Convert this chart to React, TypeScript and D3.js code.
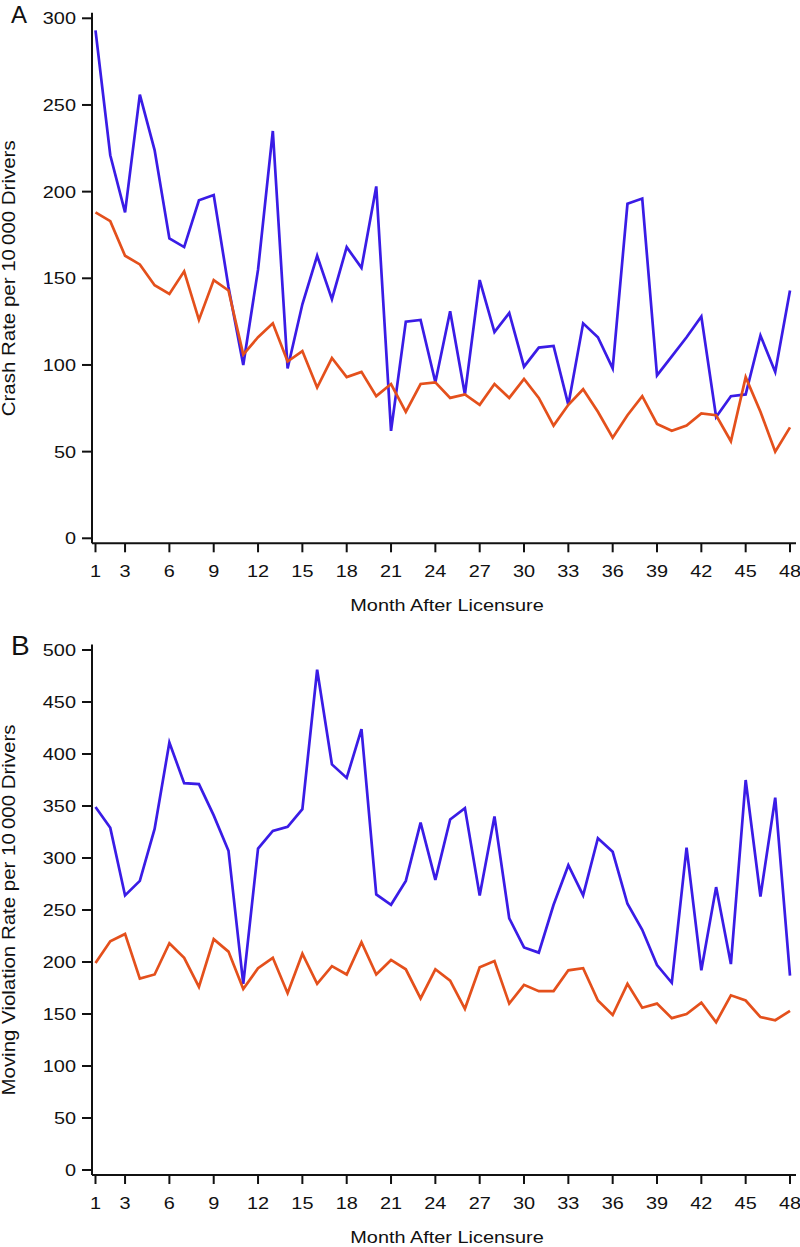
import React, { useRef, useEffect } from "react";
import * as d3 from "d3";

// month after licensure
const months = d3.range(1, 49);
const monthTicks = [1, 3, 6, 9, 12, 15, 18, 21, 24, 27, 30, 33, 36, 39, 42, 45, 48];

// panel A: crash rate per 10 000 drivers
const crashBlue = [
  293, 221, 188, 256, 224, 173, 168, 195, 198, 145,
  100, 155, 235, 98, 135, 163, 138, 168, 156, 203,
  62, 125, 126, 90, 131, 83, 149, 119, 130, 99,
  110, 111, 77, 124, 116, 98, 193, 196, 94, 105,
  116, 128, 70, 82, 83, 117, 96, 143,
];
const crashOrange = [
  188, 183, 163, 158, 146, 141, 154, 126, 149, 143,
  106, 116, 124, 102, 108, 87, 104, 93, 96, 82,
  89, 73, 89, 90, 81, 83, 77, 89, 81, 92,
  81, 65, 77, 86, 73, 58, 71, 82, 66, 62,
  65, 72, 71, 56, 93, 73, 50, 64,
];

// panel B: moving violation rate per 10 000 drivers
const violBlue = [
  349, 329, 264, 278, 328, 411, 372, 371, 341, 307,
  179, 309, 326, 330, 347, 481, 390, 377, 424, 265,
  255, 278, 334, 279, 337, 348, 264, 340, 242, 214,
  209, 255, 293, 264, 319, 306, 256, 231, 197, 180,
  310, 192, 272, 198, 375, 263, 358, 187,
];
const violOrange = [
  199, 220, 227, 184, 188, 218, 204, 176, 222, 210,
  174, 194, 204, 170, 208, 179, 196, 188, 219, 188,
  202, 193, 165, 193, 182, 155, 195, 201, 160, 178,
  172, 172, 192, 194, 163, 149, 179, 156, 160, 146,
  150, 161, 142, 168, 163, 147, 144, 153,
];

const BLUE = "#3a1ce6";
const ORANGE = "#e4501c";
const FONT = "Arial, 'Liberation Sans', Helvetica, sans-serif";
// the original figure's text is a little wider than plain Arial
const STRETCH = 1.17;

const W = 800;
const H = 1247;

const panels = [
  {
    letter: "A",
    letterSize: 24,
    title: "Crash Rate per 10\u2009000 Drivers",
    blue: crashBlue,
    orange: crashOrange,
    yMax: 300,
    yTicks: [0, 50, 100, 150, 200, 250, 300],
    top: 18.3,
    bottom: 538.3,
  },
  {
    letter: "B",
    letterSize: 28,
    title: "Moving Violation Rate per 10\u2009000 Drivers",
    blue: violBlue,
    orange: violOrange,
    yMax: 500,
    yTicks: [0, 50, 100, 150, 200, 250, 300, 350, 400, 450, 500],
    top: 650,
    bottom: 1170,
  },
];

export default function App() {
  const svgRef = useRef<SVGSVGElement>(null);

  useEffect(() => {
    const svg = d3.select(svgRef.current);
    svg.selectAll("*").remove();

    const axisX = 92;
    const x = d3.scaleLinear().domain([1, 48]).range([95.5, 790]);

    panels.forEach((p) => {
      const y = d3.scaleLinear().domain([0, p.yMax]).range([p.bottom, p.top]);
      const g = svg.append("g");
      const baseY = p.bottom + 5;

      // y axis
      g.append("line")
        .attr("x1", axisX).attr("x2", axisX)
        .attr("y1", p.top - 5.5).attr("y2", baseY)
        .attr("stroke", "#111").attr("stroke-width", 2);
      const yt = g.selectAll(".yt").data(p.yTicks).join("g")
        .attr("transform", (d) => `translate(0,${y(d)})`);
      yt.append("line")
        .attr("x1", axisX - 10).attr("x2", axisX)
        .attr("stroke", "#111").attr("stroke-width", 2);
      yt.append("text")
        .attr("transform", `translate(${axisX - 16},0) scale(${STRETCH},1)`)
        .attr("dy", "0.35em")
        .attr("text-anchor", "end")
        .attr("font-family", FONT).attr("font-size", 17).attr("fill", "#111")
        .text((d) => d);

      // x axis
      g.append("line")
        .attr("x1", axisX).attr("x2", 796)
        .attr("y1", baseY).attr("y2", baseY)
        .attr("stroke", "#111").attr("stroke-width", 2);
      const xt = g.selectAll(".xt").data(monthTicks).join("g")
        .attr("transform", (d) => `translate(${x(d)},${baseY})`);
      xt.append("line")
        .attr("y1", 0).attr("y2", 9)
        .attr("stroke", "#111").attr("stroke-width", 2);
      xt.append("text")
        .attr("transform", `translate(0,28) scale(${STRETCH},1)`)
        .attr("dy", "0.35em")
        .attr("text-anchor", "middle")
        .attr("font-family", FONT).attr("font-size", 17).attr("fill", "#111")
        .text((d) => d);

      // axis titles
      g.append("text")
        .attr("transform", `translate(${(axisX + 796) / 2 + 3},${baseY + 62}) scale(${STRETCH},1)`)
        .attr("dy", "0.35em")
        .attr("text-anchor", "middle")
        .attr("font-family", FONT).attr("font-size", 17).attr("fill", "#111")
        .text("Month After Licensure");
      g.append("text")
        .attr("transform", `translate(9,${(p.top + p.bottom) / 2}) rotate(-90) scale(${STRETCH},1)`)
        .attr("dy", "0.35em")
        .attr("text-anchor", "middle")
        .attr("font-family", FONT).attr("font-size", 17.5).attr("fill", "#111")
        .text(p.title);

      // panel letter
      g.append("text")
        .attr("x", 11).attr("y", p.top + 5)
        .attr("font-family", FONT).attr("font-size", p.letterSize).attr("fill", "#111")
        .text(p.letter);

      // series
      const line = d3.line<number>()
        .x((_, i) => x(months[i]))
        .y((d) => y(d));
      [[p.blue, BLUE], [p.orange, ORANGE]].forEach(([vals, color]) => {
        g.append("path")
          .datum(vals as number[])
          .attr("d", line)
          .attr("fill", "none")
          .attr("stroke", color as string)
          .attr("stroke-width", 2.7)
          .attr("stroke-linejoin", "miter");
      });
    });
  }, []);

  return (
    <svg
      ref={svgRef}
      width={W}
      height={H}
      style={{ position: "absolute", left: 0, top: 0, background: "#fff" }}
    />
  );
}
